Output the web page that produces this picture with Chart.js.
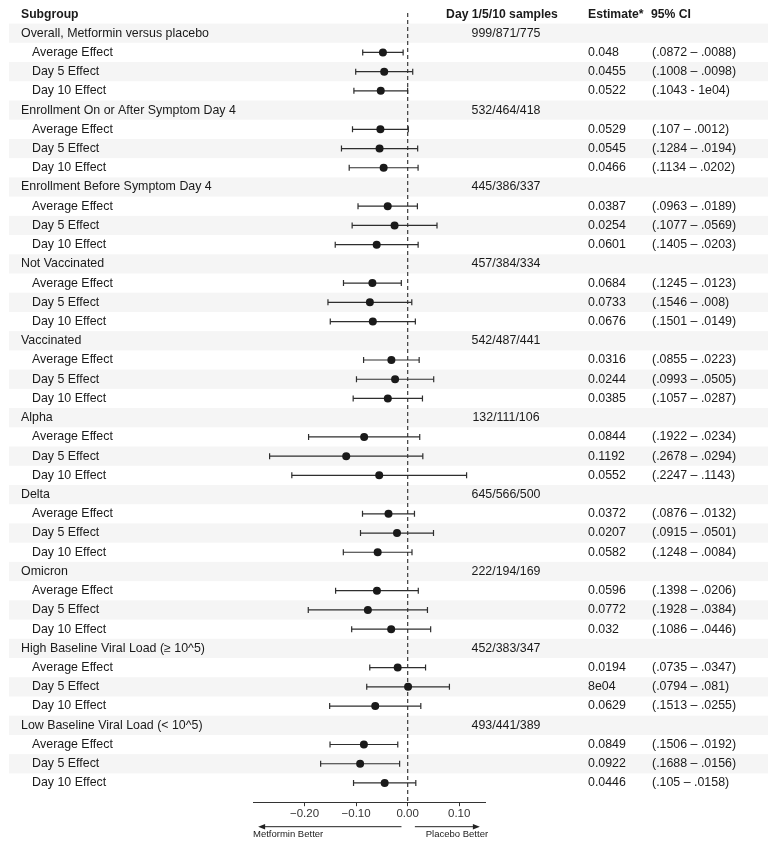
<!DOCTYPE html>
<html>
<head>
<meta charset="utf-8">
<script src="https://cdn.jsdelivr.net/npm/chart.js@4.4.0/dist/chart.umd.min.js"></script>
<style>
html, body { margin: 0; padding: 0; background: #ffffff; }
#wrap { width: 777px; height: 852px; }
</style>
</head>
<body>
<div id="wrap"><canvas id="forest" width="777" height="852"></canvas></div>
<script>
var groups = ["Overall, Metformin versus placebo", "Enrollment On or After Symptom Day 4", "Enrollment Before Symptom Day 4",
	"Not Vaccinated", "Vaccinated", "Alpha", "Delta", "Omicron",
	"High Baseline Viral Load (\u2265 10^5)", "Low Baseline Viral Load (< 10^5)"];
var samples = ["999/871/775", "532/464/418", "445/386/337", "457/384/334", "542/487/441",
	"132/111/106", "645/566/500", "222/194/169", "452/383/347", "493/441/389"];
var effects = ["Average Effect", "Day 5 Effect", "Day 10 Effect"];

var estimate = [-0.048, -0.0455, -0.0522,
	-0.0529, -0.0545, -0.0466,
	-0.0387, -0.0254, -0.0601,
	-0.0684, -0.0733, -0.0676,
	-0.0316, -0.0244, -0.0385,
	-0.0844, -0.1192, -0.0552,
	-0.0372, -0.0207, -0.0582,
	-0.0596, -0.0772, -0.032,
	-0.0194, 0.0008, -0.0629,
	-0.0849, -0.0922, -0.0446];
var ciLow = [-0.0872, -0.1008, -0.1043,
	-0.107, -0.1284, -0.1134,
	-0.0963, -0.1077, -0.1405,
	-0.1245, -0.1546, -0.1501,
	-0.0855, -0.0993, -0.1057,
	-0.1922, -0.2678, -0.2247,
	-0.0876, -0.0915, -0.1248,
	-0.1398, -0.1928, -0.1086,
	-0.0735, -0.0794, -0.1513,
	-0.1506, -0.1688, -0.105];
var ciHigh = [-0.0088, 0.0098, -0.0001,
	0.0012, 0.0194, 0.0202,
	0.0189, 0.0569, 0.0203,
	-0.0123, 0.008, 0.0149,
	0.0223, 0.0505, 0.0287,
	0.0234, 0.0294, 0.1143,
	0.0132, 0.0501, 0.0084,
	0.0206, 0.0384, 0.0446,
	0.0347, 0.081, 0.0255,
	-0.0192, -0.0156, 0.0158];
var estimateText = ["0.048", "0.0455", "0.0522", "0.0529", "0.0545", "0.0466", "0.0387", "0.0254", "0.0601",
	"0.0684", "0.0733", "0.0676", "0.0316", "0.0244", "0.0385", "0.0844", "0.1192", "0.0552",
	"0.0372", "0.0207", "0.0582", "0.0596", "0.0772", "0.032", "0.0194", "8e04", "0.0629",
	"0.0849", "0.0922", "0.0446"];
var ciText = ["(.0872 \u2013 .0088)", "(.1008 \u2013 .0098)", "(.1043 - 1e04)",
	"(.107 \u2013 .0012)", "(.1284 \u2013 .0194)", "(.1134 \u2013 .0202)",
	"(.0963 \u2013 .0189)", "(.1077 \u2013 .0569)", "(.1405 \u2013 .0203)",
	"(.1245 \u2013 .0123)", "(.1546 \u2013 .008)", "(.1501 \u2013 .0149)",
	"(.0855 \u2013 .0223)", "(.0993 \u2013 .0505)", "(.1057 \u2013 .0287)",
	"(.1922 \u2013 .0234)", "(.2678 \u2013 .0294)", "(.2247 \u2013 .1143)",
	"(.0876 \u2013 .0132)", "(.0915 \u2013 .0501)", "(.1248 \u2013 .0084)",
	"(.1398 \u2013 .0206)", "(.1928 \u2013 .0384)", "(.1086 \u2013 .0446)",
	"(.0735 \u2013 .0347)", "(.0794 \u2013 .081)", "(.1513 \u2013 .0255)",
	"(.1506 \u2013 .0192)", "(.1688 \u2013 .0156)", "(.105 \u2013 .0158)"];
var xTicks = [-0.2, -0.1, 0, 0.1];

var FONT = "'Liberation Sans', Arial, sans-serif";
var TEXT = "#1a1a1a";

// row of the k-th effect of group g (group title sits on row 4*g)
function effectRow(g, k){
	return g * 4 + 1 + k;
}

var pointData = [];
var datasets = [];
for(var g = 0; g < groups.length; g++){
	for(var k = 0; k < effects.length; k++){
		var i = g * 3 + k;
		pointData.push({x: estimate[i], y: effectRow(g, k)});
	}
}
datasets.push({
	data: pointData,
	backgroundColor: "#1a1a1a",
	borderColor: "#1a1a1a",
	pointRadius: 4,
	borderWidth: 0
});
for(var g = 0; g < groups.length; g++){
	for(var k = 0; k < effects.length; k++){
		var i = g * 3 + k;
		datasets.push({
			data: [{x: ciLow[i], y: effectRow(g, k)}, {x: ciHigh[i], y: effectRow(g, k)}],
			showLine: true,
			borderColor: "#2e2e2e",
			borderWidth: 1.2,
			pointStyle: "line",
			rotation: 90,
			pointRadius: 3,
			pointBorderColor: "#2e2e2e",
			pointBorderWidth: 1.2
		});
	}
}
datasets.push({
	data: [{x: 0, y: -1.05}, {x: 0, y: 40}],
	showLine: true,
	borderColor: "#4a4a4a",
	borderWidth: 1.3,
	borderDash: [4, 3],
	pointRadius: 0
});

var stripes = {
	id: "stripes",
	beforeDatasetsDraw: function(chart){
		var ctx = chart.ctx;
		var y = chart.scales.y;
		var h = Math.abs(y.getPixelForValue(1) - y.getPixelForValue(0));
		ctx.save();
		ctx.fillStyle = "#f5f5f5";
		for(var r = 0; r < groups.length * 4; r += 2){
			var py = y.getPixelForValue(r);
			ctx.fillRect(9, py - h / 2, 759, h);
		}
		ctx.restore();
	}
};

var columns = {
	id: "columns",
	afterDraw: function(chart){
		var ctx = chart.ctx;
		var x = chart.scales.x;
		var y = chart.scales.y;
		ctx.save();
		ctx.textBaseline = "middle";
		ctx.fillStyle = TEXT;

		var hy = y.getPixelForValue(-0.95);
		ctx.font = "bold 12.2px " + FONT;
		ctx.textAlign = "left";
		ctx.fillText("Subgroup", 21, hy);
		ctx.fillText("Estimate*", 588, hy);
		ctx.fillText("95% CI", 651, hy);
		ctx.textAlign = "center";
		ctx.fillText("Day 1/5/10 samples", 502, hy);

		ctx.font = "12.4px " + FONT;
		for(var g = 0; g < groups.length; g++){
			var gy = y.getPixelForValue(g * 4);
			ctx.textAlign = "left";
			ctx.fillText(groups[g], 21, gy);
			ctx.textAlign = "center";
			ctx.fillText(samples[g], 506, gy);
			ctx.textAlign = "left";
			for(var k = 0; k < effects.length; k++){
				var i = g * 3 + k;
				var ey = y.getPixelForValue(effectRow(g, k));
				ctx.fillText(effects[k], 32, ey);
				ctx.fillText(estimateText[i], 588, ey);
				ctx.fillText(ciText[i], 652, ey);
			}
		}

		// direction arrows under the axis
		var ay = chart.chartArea.bottom + 24.5;
		ctx.strokeStyle = "#222";
		ctx.fillStyle = "#222";
		ctx.lineWidth = 1;
		drawArrow(ctx, x.getPixelForValue(-0.012), x.getPixelForValue(-0.29), ay);
		drawArrow(ctx, x.getPixelForValue(0.014), x.getPixelForValue(0.14), ay);
		ctx.font = "9.5px " + FONT;
		ctx.fillStyle = TEXT;
		ctx.textAlign = "left";
		ctx.fillText("Metformin Better", x.getPixelForValue(-0.3), ay + 7.5);
		ctx.textAlign = "right";
		ctx.fillText("Placebo Better", x.getPixelForValue(0.156), ay + 7.5);
		ctx.restore();
	}
};

function drawArrow(ctx, from, to, ay){
	var dir = to > from ? 1 : -1;
	ctx.beginPath();
	ctx.moveTo(from, ay);
	ctx.lineTo(to - dir * 5, ay);
	ctx.stroke();
	ctx.beginPath();
	ctx.moveTo(to, ay);
	ctx.lineTo(to - dir * 7, ay - 2.8);
	ctx.lineTo(to - dir * 7, ay + 2.8);
	ctx.closePath();
	ctx.fill();
}

var myChart = new Chart(document.getElementById("forest").getContext("2d"), {
	type: "scatter",
	data: {datasets: datasets},
	options: {
		responsive: false,
		animation: false,
		layout: {padding: {left: 253, right: 292, top: 13, bottom: 30}},
		plugins: {legend: {display: false}, tooltip: {enabled: false}},
		scales: {
			x: {
				type: "linear",
				min: -0.30,
				max: 0.15,
				afterBuildTicks: function(axis){
					axis.ticks = xTicks.map(function(v){ return {value: v}; });
				},
				grid: {drawOnChartArea: false, drawTicks: true, tickLength: 4, color: "#333333"},
				border: {color: "#333333", width: 1},
				ticks: {
					padding: 1,
					color: "#333333",
					font: {family: FONT, size: 11.5},
					callback: function(v){
						var s = Math.abs(v).toFixed(2);
						return v < -1e-9 ? "\u2212" + s : s;
					}
				}
			},
			y: {
				type: "linear",
				display: false,
				reverse: true,
				min: -1.05,
				max: 40
			}
		}
	},
	plugins: [stripes, columns]
});
</script>
</body>
</html>
